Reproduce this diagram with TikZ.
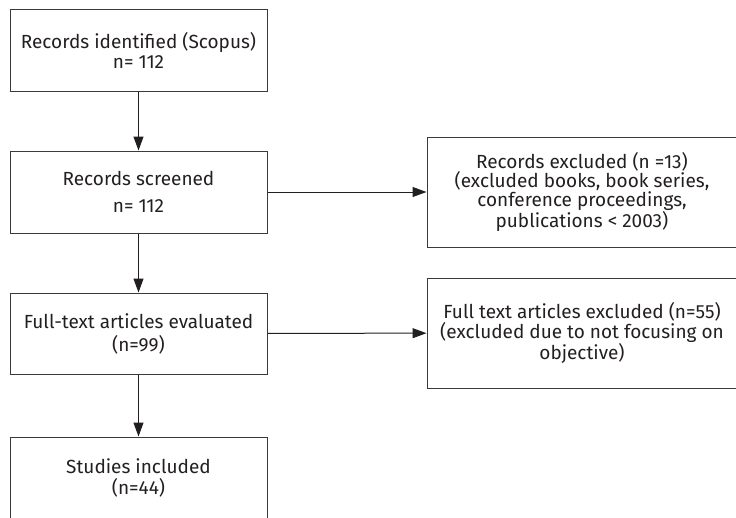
\documentclass[tikz,border=0pt]{standalone}
\usepackage{fontspec}
\setmainfont{Fira Sans}
\usetikzlibrary{arrows.meta}
\definecolor{ink}{HTML}{231F20}
\definecolor{edge}{HTML}{3A3A3A}
\tikzset{
  box/.style={draw=edge, line width=1pt, rectangle, inner sep=0pt, align=center, text=ink},
  fs/.style={font=\fontsize{19}{#1}\selectfont},
  flow/.style={draw=ink, line width=1pt, -{Triangle[length=14pt,width=10pt]}}
}
\begin{document}
\begin{tikzpicture}[x=1pt,y=-1pt]
\useasboundingbox (0,0) rectangle (736,517);
\clip (0,0) rectangle (736,517);
\node[box, fs=20, minimum width=257pt, minimum height=82pt] (ident) at (138.5,50) {Records identified (Scopus)\\ n= 112};
\node[box, fs=27, minimum width=257pt, minimum height=82pt] (screen) at (138.5,192) {Records screened\\ n= 112};
\node[box, fs=23, minimum width=257pt, minimum height=81pt] (full) at (138.5,333.5) {Full-text articles evaluated\\ (n=99)};
\node[box, fs=21, minimum width=257pt, minimum height=82pt] (incl) at (138.5,478) {Studies included\\ (n=44)};
\node[box, fs=17, minimum width=310pt, minimum height=110pt] (excl1) at (582,192) {Records excluded (n =13)\\ (excluded books, book series,\\ conference proceedings,\\ publications < 2003)};
\node[box, fs=16.7, minimum width=310pt, minimum height=110pt] (excl2) at (582,333) {Full text articles excluded (n=55)\\ (excluded due to not focusing on\\ objective)};
\draw[flow] (ident) -- (screen);
\draw[flow] (screen) -- (full);
\draw[flow] (full) -- (incl);
\draw[flow] (screen) -- (excl1);
\draw[flow] (full) -- (excl2);
\end{tikzpicture}
\end{document}
